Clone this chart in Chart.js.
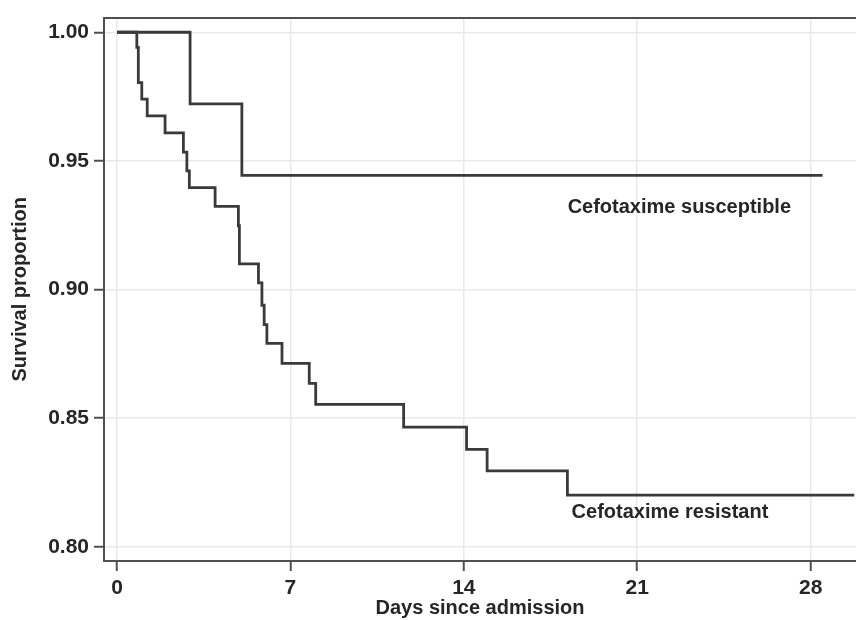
<!DOCTYPE html>
<html>
<head>
<meta charset="utf-8">
<script src="https://cdn.jsdelivr.net/npm/chart.js@4.4.1/dist/chart.umd.min.js"></script>
<style>
  html, body { margin: 0; padding: 0; background: #ffffff; }
  #wrap { width: 856px; height: 620px; }
</style>
</head>
<body>
<div id="wrap"><canvas id="c" width="856" height="620"></canvas></div>
<script>
// ---- data ----
const X_TICKS = [0, 7, 14, 21, 28];
const Y_TICKS = [0.80, 0.85, 0.90, 0.95, 1.00];

const SUSC_DAYS = [0, 2.95, 5.04, 28.48];
const SUSC_SURV = [1.0, 0.9722, 0.9444, 0.9444];

const RES_DAYS = [0, 0.80, 0.86, 1.00, 1.22, 1.94, 2.68, 2.82, 2.92, 3.96, 4.90, 4.94,
                  5.71, 5.85, 5.94, 6.05, 6.66, 7.76, 8.02, 11.57, 14.11, 14.94, 18.18, 29.76];
const RES_SURV = [1.0, 0.9941, 0.9804, 0.9740, 0.9675, 0.9609, 0.9534, 0.9461, 0.9396, 0.9323, 0.9248, 0.9100,
                  0.9026, 0.8939, 0.8864, 0.8791, 0.8713, 0.8635, 0.8554, 0.8465, 0.8379, 0.8295, 0.8201, 0.8201];

const SERIES_LABELS = ['Cefotaxime susceptible', 'Cefotaxime resistant'];
const LABEL_POS = [ { x: 18.19, y: 0.9319 }, { x: 18.35, y: 0.8134 } ];

const FONT = "'Liberation Sans', Arial, Helvetica, sans-serif";
const INK = '#262626';
const AXIS = '#505050';
const GRID = '#e9e9e9';
const LINE = '#3a3a3a';

function toPoints(xs, ys) { return xs.map((x, i) => ({ x: x, y: ys[i] })); }

const curveLabels = {
  id: 'curveLabels',
  afterDatasetsDraw(chart) {
    const ctx = chart.ctx;
    const xs = chart.scales.x, ys = chart.scales.y;
    ctx.save();
    ctx.font = 'bold 20px ' + FONT;
    ctx.fillStyle = INK;
    ctx.textAlign = 'left';
    ctx.textBaseline = 'middle';
    SERIES_LABELS.forEach((t, i) => {
      ctx.fillText(t, xs.getPixelForValue(LABEL_POS[i].x), ys.getPixelForValue(LABEL_POS[i].y));
    });
    ctx.restore();
  }
};

Chart.defaults.font.family = FONT;
Chart.defaults.color = INK;

new Chart(document.getElementById('c'), {
  type: 'line',
  data: {
    datasets: [
      { label: SERIES_LABELS[0], data: toPoints(SUSC_DAYS, SUSC_SURV), stepped: 'before',
        borderColor: LINE, borderWidth: 2.8, pointRadius: 0, fill: false,
        borderJoinStyle: 'miter', borderCapStyle: 'butt' },
      { label: SERIES_LABELS[1], data: toPoints(RES_DAYS, RES_SURV), stepped: 'before',
        borderColor: LINE, borderWidth: 2.8, pointRadius: 0, fill: false,
        borderJoinStyle: 'miter', borderCapStyle: 'butt' }
    ]
  },
  options: {
    responsive: false,
    animation: false,
    events: [],
    layout: { padding: { left: 0, right: 0, top: 0, bottom: 0 } },
    plugins: { legend: { display: false }, tooltip: { enabled: false } },
    scales: {
      x: {
        type: 'linear', position: 'bottom', min: -0.525, max: 29.83,
        afterBuildTicks: (s) => { s.ticks = X_TICKS.map(v => ({ value: v })); },
        afterFit: (s) => { s.height = 59; },
        ticks: { font: { size: 21, weight: 'bold' }, color: INK, padding: 5, maxRotation: 0, autoSkip: false },
        grid: { color: GRID, lineWidth: 1.5, tickColor: AXIS, tickWidth: 2, tickLength: 10 },
        border: { display: true, color: AXIS, width: 2 },
        title: { display: true, text: 'Days since admission', font: { size: 20, weight: 'bold' }, color: INK,
                 padding: { top: 0, bottom: 0 } }
      },
      xTop: {
        type: 'linear', position: 'top', min: -0.525, max: 29.83,
        afterFit: (s) => { s.height = 14; },
        ticks: { display: false },
        grid: { display: false, drawTicks: false },
        border: { display: true, color: AXIS, width: 2 }
      },
      y: {
        type: 'linear', position: 'left', min: 0.7945, max: 1.0057,
        afterBuildTicks: (s) => { s.ticks = Y_TICKS.map(v => ({ value: v })); },
        afterFit: (s) => { s.width = 104; },
        ticks: { font: { size: 21, weight: 'bold' }, color: INK, padding: 5,
                 callback: (v) => Number(v).toFixed(2) },
        grid: { color: GRID, lineWidth: 1.5, tickColor: AXIS, tickWidth: 2, tickLength: 10 },
        border: { display: true, color: AXIS, width: 2 },
        title: { display: true, text: 'Survival proportion', font: { size: 20, weight: 'bold' }, color: INK,
                 padding: { top: 8, bottom: 0 } }
      }
    }
  },
  plugins: [curveLabels]
});
</script>
</body>
</html>
